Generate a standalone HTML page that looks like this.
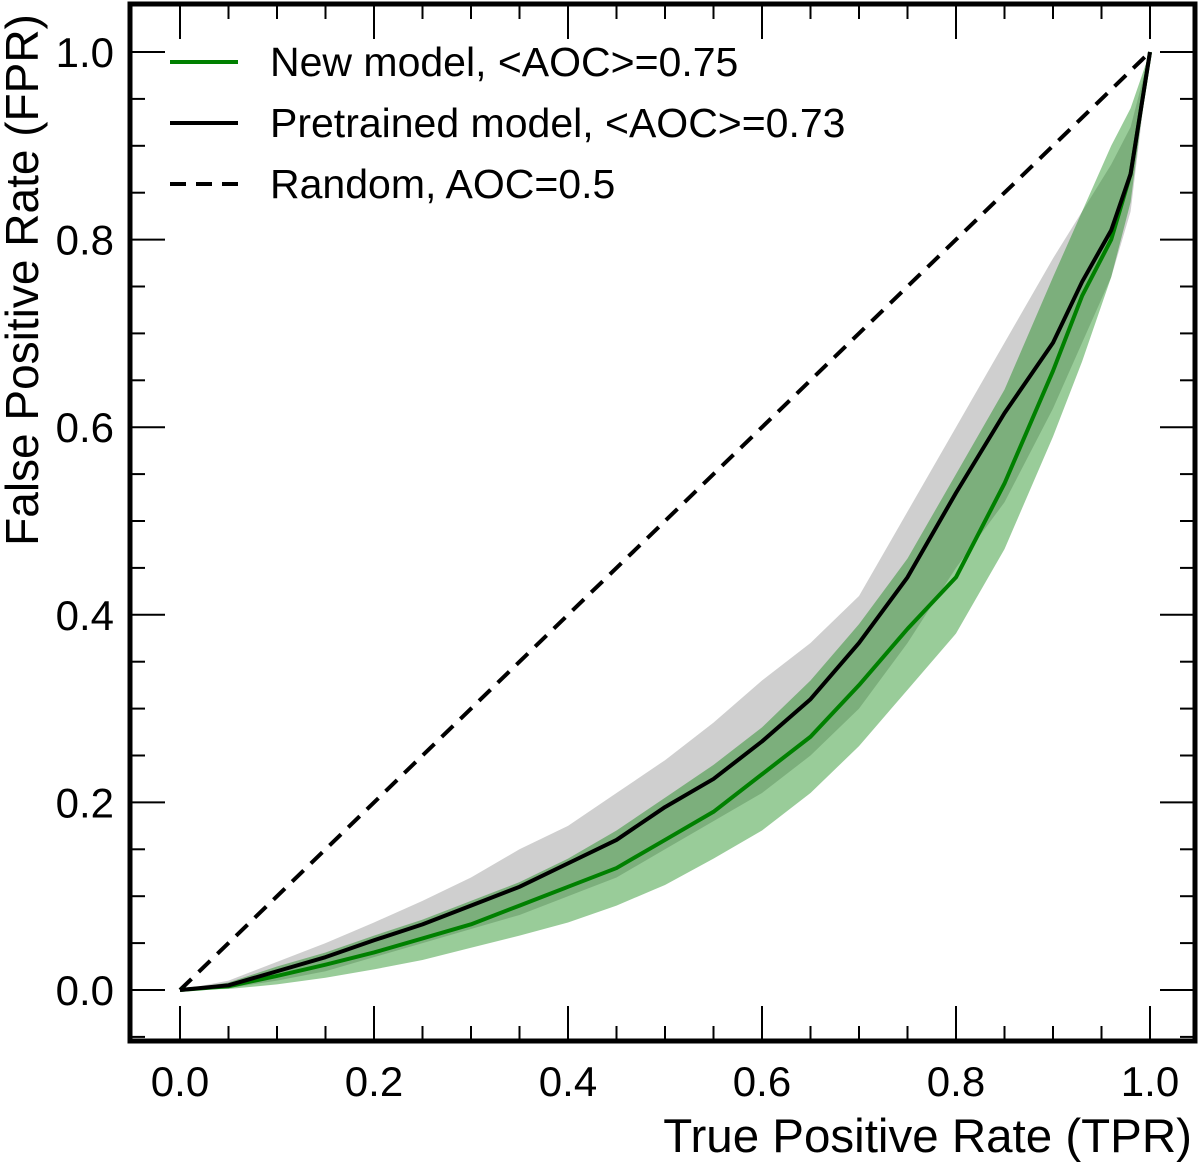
<!DOCTYPE html>
<html><head><meta charset="utf-8"><style>
html,body{margin:0;padding:0;background:#fff;}
svg{display:block;font-family:"Liberation Sans",Arial,sans-serif;}
</style></head><body>
<svg id="chart" width="1200" height="1163" viewBox="0 0 1200 1163" xmlns="http://www.w3.org/2000/svg"></svg>
<script>
const tprGrid = [0,0.05,0.1,0.15,0.2,0.25,0.3,0.35,0.4,0.45,0.5,0.55,0.6,0.65,0.7,0.75,0.8,0.85,0.9,0.93,0.96,0.98,1];
const pretrainedMean = [0,0.005,0.02,0.035,0.053,0.07,0.09,0.11,0.135,0.16,0.195,0.225,0.265,0.31,0.37,0.44,0.53,0.615,0.69,0.755,0.81,0.87,1];
const pretrainedUpper = [0,0.01,0.03,0.05,0.072,0.095,0.12,0.15,0.175,0.21,0.245,0.285,0.33,0.37,0.42,0.51,0.6,0.69,0.78,0.83,0.88,0.92,1];
const pretrainedLower = [0,0.002,0.01,0.02,0.035,0.05,0.065,0.08,0.1,0.12,0.15,0.18,0.21,0.25,0.3,0.37,0.45,0.52,0.62,0.69,0.76,0.83,1];
const newMean = [0,0.004,0.015,0.027,0.04,0.055,0.07,0.09,0.11,0.13,0.16,0.19,0.23,0.27,0.325,0.385,0.44,0.54,0.66,0.74,0.8,0.87,1];
const newUpper = [0,0.008,0.025,0.04,0.058,0.075,0.095,0.115,0.14,0.17,0.205,0.24,0.28,0.33,0.39,0.46,0.55,0.64,0.76,0.83,0.9,0.94,1];
const newLower = [0,0.001,0.006,0.013,0.022,0.032,0.045,0.058,0.072,0.09,0.112,0.14,0.17,0.21,0.26,0.32,0.38,0.47,0.59,0.67,0.76,0.84,1];
const tickValues = [0,0.2,0.4,0.6,0.8,1.0];
const tickLabels = ["0.0","0.2","0.4","0.6","0.8","1.0"];
const legendLabels = ["New model, <AOC>=0.75","Pretrained model, <AOC>=0.73","Random, AOC=0.5"];

const NS="http://www.w3.org/2000/svg";
const svg=document.getElementById('chart');
const L=130,R=1195,T=4,B=1041;
const X=v=>180+v*970;
const Y=v=>990-v*938;
function mk(tag,attrs,parent){const e=document.createElementNS(NS,tag);for(const k in attrs)e.setAttribute(k,attrs[k]);(parent||svg).appendChild(e);return e;}

function band(up,lo,fill,name){
  let d='M'+tprGrid.map((t,i)=>X(t)+','+Y(up[i])).join('L');
  for(let i=tprGrid.length-1;i>=0;i--) d+='L'+X(tprGrid[i])+','+Y(lo[i]);
  const p=mk('path',{d:d+'Z',fill:fill,stroke:'none'});
  
  
}
function line(vals,color,name){
  const p=mk('path',{d:'M'+tprGrid.map((t,i)=>X(t)+','+Y(vals[i])).join('L'),fill:'none',stroke:color,'stroke-width':4,'stroke-linejoin':'round'});
  
  
}
band(pretrainedUpper,pretrainedLower,'rgba(160,160,160,0.5)','pretrained-band');
band(newUpper,newLower,'rgba(0,128,0,0.4)','new-model-band');
const diag=mk('line',{x1:X(0),y1:Y(0),x2:X(1),y2:Y(1),stroke:'#000','stroke-width':4,'stroke-dasharray':'16,10'});


line(newMean,'#008000','new-model-line');
line(pretrainedMean,'#000','pretrained-line');

for(let k=-1;k<=21;k++){
  const v=k*0.05, major=(k%4===0);
  const x=X(v);
  const tl=major?35:15;
  if(x>L+3&&x<R-3){
    const b=mk('line',{x1:x,y1:B,x2:x,y2:B-tl,stroke:'#000','stroke-width':2});
    
    
    const t=mk('line',{x1:x,y1:T,x2:x,y2:T+tl,stroke:'#000','stroke-width':2});
    
    
  }
  const y=Y(v);
  if(y>T+3&&y<B-3){
    const a=mk('line',{x1:L,y1:y,x2:L+tl,y2:y,stroke:'#000','stroke-width':2});
    
    
    const c=mk('line',{x1:R,y1:y,x2:R-tl,y2:y,stroke:'#000','stroke-width':2});
    
    
  }
}
tickValues.forEach((v,i)=>{
  const tx=mk('text',{x:X(v),y:1096,'font-size':42,'text-anchor':'middle',fill:'#000'});
  tx.textContent=tickLabels[i];
  
  
  const ty=mk('text',{x:114,y:Y(v)+15,'font-size':42,'text-anchor':'end',fill:'#000'});
  ty.textContent=tickLabels[i];
  
  
});
const frame=mk('rect',{x:L,y:T,width:R-L,height:B-T,fill:'none',stroke:'#000','stroke-width':5});



const xl=mk('text',{x:1192,y:1152,'font-size':47.5,'text-anchor':'end',fill:'#000'});
xl.textContent='True Positive Rate (TPR)';


const yl=mk('text',{x:0,y:0,'font-size':46,'text-anchor':'middle',fill:'#000',transform:'translate(38,280) rotate(-90)'});
yl.textContent='False Positive Rate (FPR)';



const legY=[62,123,184];
const legStyles=[{c:'#008000',d:'none'},{c:'#000',d:'none'},{c:'#000',d:'16,10'}];
legendLabels.forEach((lab,i)=>{
  const g=mk('g',{});
  
  
  mk('line',{x1:170,y1:legY[i],x2:238,y2:legY[i],stroke:legStyles[i].c,'stroke-width':4,'stroke-dasharray':legStyles[i].d},g);
  const t=mk('text',{x:270,y:legY[i]+14,'font-size':41,fill:'#000'},g);
  t.textContent=lab;
});
</script>
</body></html>
